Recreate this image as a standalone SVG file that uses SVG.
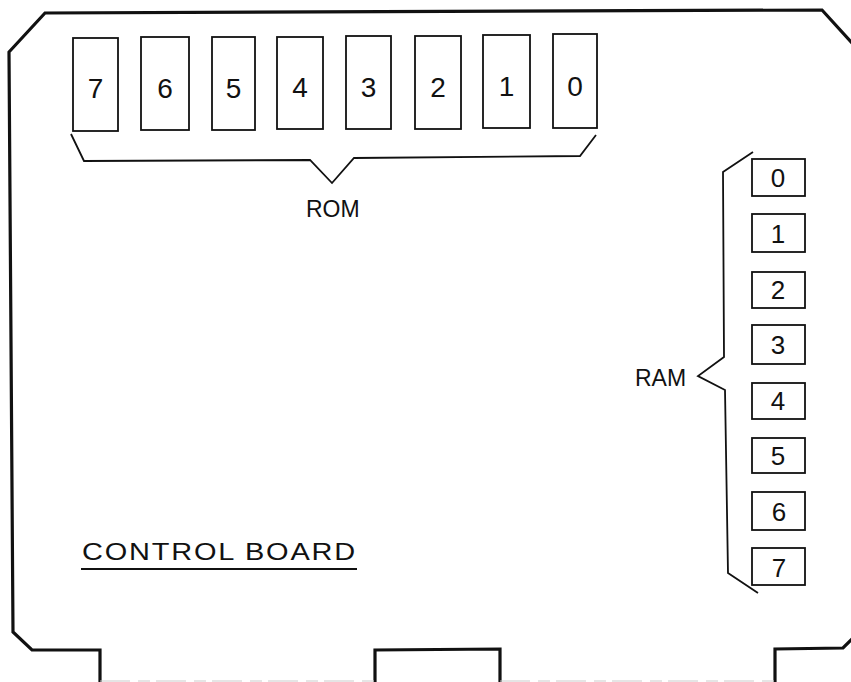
<svg xmlns="http://www.w3.org/2000/svg" width="851" height="682" viewBox="0 0 851 682">
<style>
.board{fill:none;stroke:#111;stroke-width:3.2;stroke-linejoin:miter}
.chip rect{fill:#fff;stroke:#111;stroke-width:1.8}
.chip text{font-family:"Liberation Sans",Arial,sans-serif;fill:#111;text-anchor:middle}
.rom text{font-size:28px}
.ram text{font-size:26px}
.br{fill:none;stroke:#111;stroke-width:1.8;stroke-linejoin:miter}
.lbl{font-family:"Liberation Sans",Arial,sans-serif;font-size:23px;fill:#111}
</style>
<rect width="851" height="682" fill="#fff"/>
<g id="board">
<path class="board" d="M100 682 L100 650 L32 650 L13 632 L9 52 L45 13 L822 10 L853 44"/>
<path class="board" d="M375 682 L375 650 L500 649 L500 682"/>
<path class="board" d="M775 682 L775 649 L843 648 L853 638"/>
<path d="M100 681 L375 681 M500 681 L775 681" stroke="#ccc" stroke-width="1.2" stroke-dasharray="30 8 12 6" fill="none"/>
</g>
<g id="rom7" class="chip rom"><rect x="73" y="38" width="45" height="93"/><text x="95.5" y="98">7</text></g>
<g id="rom6" class="chip rom"><rect x="141" y="37" width="48" height="93"/><text x="165" y="98">6</text></g>
<g id="rom5" class="chip rom"><rect x="212" y="37" width="43" height="93"/><text x="233.5" y="98">5</text></g>
<g id="rom4" class="chip rom"><rect x="277" y="37" width="46" height="92"/><text x="300" y="97">4</text></g>
<g id="rom3" class="chip rom"><rect x="346" y="36" width="45" height="93"/><text x="368.5" y="97">3</text></g>
<g id="rom2" class="chip rom"><rect x="415" y="36" width="46" height="93"/><text x="438" y="97">2</text></g>
<g id="rom1" class="chip rom"><rect x="483" y="35" width="47" height="93"/><text x="506.5" y="96">1</text></g>
<g id="rom0" class="chip rom"><rect x="553" y="34" width="44" height="94"/><text x="575" y="96">0</text></g>
<g id="ram0" class="chip ram"><rect x="752" y="159" width="53" height="37"/><text x="778" y="187">0</text></g>
<g id="ram1" class="chip ram"><rect x="752" y="214" width="53" height="38"/><text x="778" y="243">1</text></g>
<g id="ram2" class="chip ram"><rect x="752" y="272" width="53" height="36"/><text x="778" y="299">2</text></g>
<g id="ram3" class="chip ram"><rect x="752" y="325" width="53" height="39"/><text x="778" y="354">3</text></g>
<g id="ram4" class="chip ram"><rect x="752" y="383" width="53" height="36"/><text x="778" y="410">4</text></g>
<g id="ram5" class="chip ram"><rect x="752" y="438" width="53" height="35"/><text x="778" y="465">5</text></g>
<g id="ram6" class="chip ram"><rect x="752" y="492" width="53" height="38"/><text x="779" y="521">6</text></g>
<g id="ram7" class="chip ram"><rect x="752" y="548" width="53" height="37"/><text x="779" y="577">7</text></g>
<g id="connectors">
<path class="br" d="M71 134 L84 161 L310 160 L332 183 L354 158 L580 156 L596 135"/>
<path class="br" d="M753 152 L723 172 L724 357 L698 376 L725 390 L728 573 L758 593"/>
</g>
<g id="labels">
<text class="lbl" x="306" y="217">ROM</text>
<text class="lbl" x="635" y="386">RAM</text>
<text class="lbl" x="82" y="560" style="font-size:24px;letter-spacing:1.5px" textLength="275" lengthAdjust="spacingAndGlyphs">CONTROL BOARD</text>
<line x1="81" y1="569" x2="357" y2="569" stroke="#111" stroke-width="2"/>
</g>
</svg>
